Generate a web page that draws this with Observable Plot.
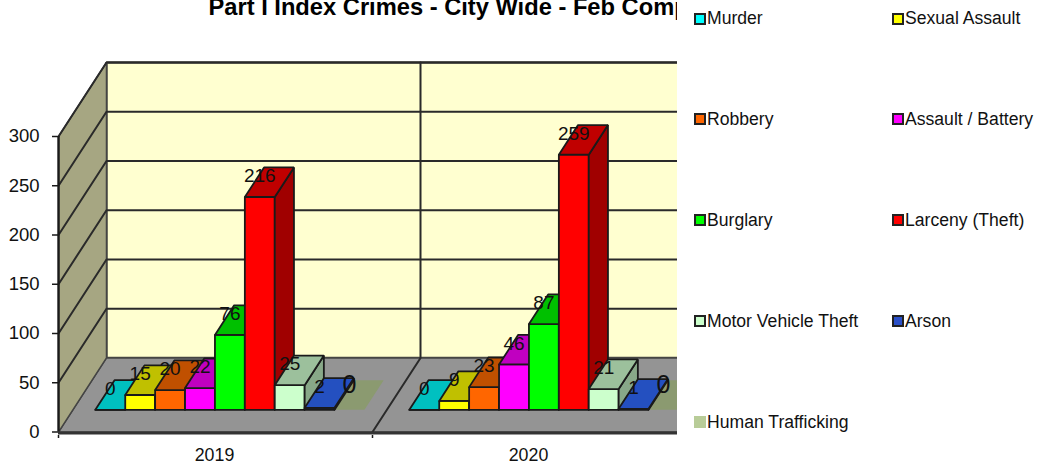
<!DOCTYPE html>
<html><head><meta charset="utf-8">
<script src="https://cdn.jsdelivr.net/npm/d3@7"></script>
<script src="https://cdn.jsdelivr.net/npm/@observablehq/plot@0.6"></script>
<style>
html,body{margin:0;padding:0;background:#fff;font-family:"Liberation Sans",Arial,sans-serif}
#wrap{position:relative;width:1037px;height:465px;overflow:hidden}
#legend{position:absolute;left:694px;top:0.5px;width:343px;height:464px;display:grid;grid-template-columns:198px 145px;grid-auto-rows:100.9px;font-size:17.6px;color:#111}
.it{display:flex;align-items:center;height:36px;white-space:nowrap}
.sw{box-sizing:border-box;width:12px;height:12px;border:2.5px solid #222;margin-right:1px;flex:none}
</style></head><body><div id="wrap"><div id="chart"></div><div id="legend"></div></div>
<script>
const years = ["2019", "2020"];
const crimes = ["Murder","Sexual Assault","Robbery","Assault / Battery","Burglary","Larceny (Theft)","Motor Vehicle Theft","Arson","Human Trafficking"];
const values2019 = [0,15,20,22,76,216,25,2,0];
const values2020 = [0,9,23,46,87,259,21,1,0];
const frontColors = ["#00ffff","#ffff00","#ff6600","#ff00ff","#00ff00","#ff0000","#ccffcc","#2b50c8","#b8cc98"];
const topColors   = ["#00c0c0","#c0c000","#c05000","#c000c0","#00c000","#c00000","#9cc09c","#2450c0","#8b9a70"];
const sideColors  = ["#00a0a0","#a0a000","#a04000","#a000a0","#00a000","#a00000","#88a888","#1f45a8","#8b9a70"];
const yTicks = [0,50,100,150,200,250,300];
const title = "Part I Index Crimes - City Wide - Feb Comp";

// projection of the oblique 3D box, in scale units
const depthX = 48/314, depthY = 75.2, slots = 10.5, slotGap = 0.75, front = 0.3, back = 0.7;
const P = (u,d,v)=>({x:u+d*depthX, y:v+d*depthY});
const poly = (id,fill,pts)=>[...pts,pts[0]].map(p=>({...p,id,fill}));

const maxY = 300;
const leftWall = poly("lw","#a6a682",[P(0,0,0),P(0,1,0),P(0,1,maxY),P(0,0,maxY)]);
const backWall = poly("bw","#ffffd0",[P(0,1,0),P(2,1,0),P(2,1,maxY),P(0,1,maxY)]);
const floor = poly("fl","#949494",[P(0,0,0),P(2,0,0),P(2,1,0),P(0,1,0)]);
const grid = [];
yTicks.slice(1).forEach(t=>{
  grid.push({...P(0,0,t),id:"g"+t},{...P(0,1,t),id:"g"+t},{...P(2,1,t),id:"g"+t});
});
[1,2].forEach(g=>grid.push({...P(g,0,0),id:"d"+g},{...P(g,1,0),id:"d"+g},{...P(g,1,maxY),id:"d"+g}));

const faces = [], ghost = [], labels = [];
[values2019,values2020].forEach((vals,g)=>{
  vals.forEach((v,s)=>{
    const a = g+(slotGap+s)/slots, b = g+(slotGap+s+1)/slots, id=`${g}-${s}`;
    const topFace = [P(a,front,v),P(b,front,v),P(b,back,v),P(a,back,v)];
    if (s===8) ghost.push(...poly(id,topColors[s],topFace));
    else {
      faces.push(...poly(id+"f",frontColors[s],[P(a,front,0),P(b,front,0),P(b,front,v),P(a,front,v)]));
      faces.push(...poly(id+"s",sideColors[s],[P(b,front,0),P(b,back,0),P(b,back,v),P(b,front,v)]));
      faces.push(...poly(id+"t",topColors[s],topFace));
    }
    const c = P((a+b)/2,front,v);
    labels.push({x:c.x,y:c.y,text:String(v),big:s===8});
  });
});
const polyOpts = (stroke,sw)=>({x:"x",y:"y",z:"id",fill:{value:d=>d.fill,scale:null},stroke,strokeWidth:sw,clip:true,strokeLinejoin:"miter"});

const chart = Plot.plot({
  width:1037,height:465,marginLeft:58,marginRight:360,marginTop:0,marginBottom:30,
  style:{fontFamily:'"Liberation Sans",Arial,sans-serif',color:"#111",background:"#fff",overflow:"hidden"},
  x:{domain:[0,2],range:[58,686],axis:null},
  y:{domain:[0,300],range:[431.5,136],axis:null},
  marks:[
    Plot.line(backWall,polyOpts("#4a4a40",2.4)),
    Plot.line(floor,polyOpts("#444",1.5)),
    Plot.line(leftWall,polyOpts("#444",1.5)),
    Plot.line(grid,{x:"x",y:"y",z:"id",stroke:"#2a2a2a",strokeWidth:2,clip:true}),
    Plot.line(ghost,{...polyOpts("none",0),fillOpacity:1}),
    Plot.line(faces,polyOpts("#1a1a1a",1.8)),
    Plot.axisY({ticks:yTicks,anchor:"left",tickSize:6,tickPadding:13,fontSize:18.5,label:null,stroke:"#1a1a1a",strokeWidth:1.5}),
    Plot.ruleX([0],{y1:0,y2:300,stroke:"#1a1a1a",strokeWidth:2.4}),
    Plot.ruleY([0],{x1:0,x2:2,dy:1,stroke:"#333",strokeWidth:3,clip:true}),
    Plot.axisX({ticks:[0,1],tickFormat:()=>"",tickSize:3,label:null,stroke:"#1a1a1a",strokeWidth:1.5}),
    Plot.text(years,{x:(d,i)=>i+0.5,y:()=>0,dx:-1,dy:23,text:d=>d,fontSize:17.8,fill:"#111",lineAnchor:"middle"}),
    Plot.text(labels.filter(d=>!d.big),{x:"x",y:"y",text:"text",dy:-21,fontSize:19,fill:"#111",clip:true}),
    Plot.text(labels.filter(d=>d.big),{x:"x",y:"y",text:"text",dy:-25,fontSize:25,fill:"#111",clip:true}),
    Plot.text([title],{frameAnchor:"top-left",dx:150,dy:-2,text:d=>d,fontSize:23.7,fontWeight:"bold",fill:"#000",clip:true,textAnchor:"start",lineAnchor:"top"})
  ]
});
document.getElementById("chart").append(chart);

const leg = document.getElementById("legend");
crimes.forEach((c,i)=>{
  const it=document.createElement("div");it.className="it";
  const sw=document.createElement("span");sw.className="sw";sw.style.background=frontColors[i];
  if(i===8){sw.style.border="none";}
  it.append(sw,document.createTextNode(c));leg.append(it);
});
</script></body></html>
